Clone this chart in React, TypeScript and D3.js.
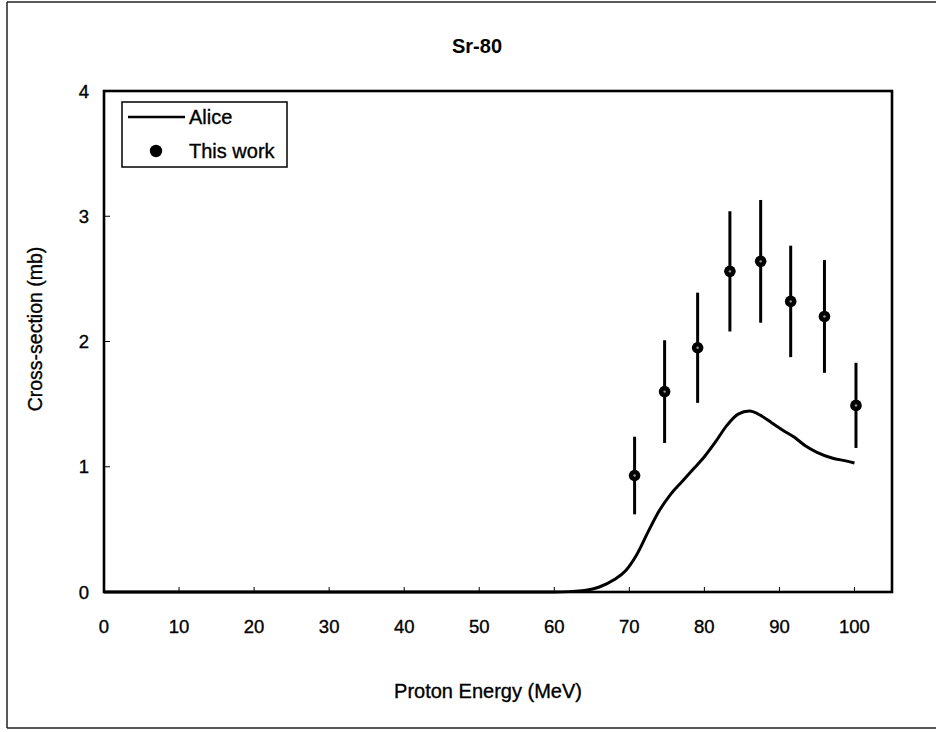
import React from "react";
import * as d3 from "d3";

// Alice model curve (Proton energy MeV, cross-section mb)
const aliceEnergy = [0, 10, 20, 30, 40, 50, 55, 60, 62, 64, 66, 68, 69.5, 71, 72.5, 74, 75.5, 77, 78.5, 80, 81.5, 83, 84.5, 86, 87.5, 89, 90.5, 92, 93.5, 95, 97, 99, 100];
const aliceXs = [0, 0, 0, 0, 0, 0, 0, 0, 0.003, 0.012, 0.04, 0.1, 0.17, 0.3, 0.48, 0.65, 0.78, 0.88, 0.98, 1.08, 1.2, 1.33, 1.42, 1.445, 1.41, 1.35, 1.29, 1.235, 1.165, 1.115, 1.07, 1.045, 1.03];

// This work measurements
const workEnergy = [70.7, 74.7, 79.1, 83.4, 87.5, 91.5, 96.0, 100.2];
const workXs = [0.93, 1.60, 1.95, 2.56, 2.64, 2.32, 2.20, 1.49];
const workErr = [0.31, 0.41, 0.44, 0.48, 0.49, 0.445, 0.45, 0.34];

const xTicks = [0, 10, 20, 30, 40, 50, 60, 70, 80, 90, 100];
const yTicks = [0, 1, 2, 3, 4];

const title = "Sr-80";
const xTitle = "Proton Energy (MeV)";
const yTitle = "Cross-section (mb)";
const legendLabels = ["Alice", "This work"];

export default function App() {
  const W = 936, H = 732;
  const left = 104, right = 892, top = 91, bottom = 592;
  const x = d3.scaleLinear().domain([0, 105]).range([left, right]);
  const y = d3.scaleLinear().domain([0, 4]).range([bottom, top]);
  const font = "'Liberation Sans', Arial, Helvetica, sans-serif";
  const txt = { stroke: "#000", strokeWidth: 0.35 } as const;

  const line = d3
    .line<number>()
    .x((_, i) => x(aliceEnergy[i]))
    .y((d) => y(d))
    .curve(d3.curveMonotoneX);

  return (
    <svg width={W} height={H} style={{ position: "absolute", left: 0, top: 0, background: "#fff" }} fontFamily={font}>
      {/* outer frame (no right border) */}
      <line x1={7} y1={2} x2={W} y2={2} stroke="#222" strokeWidth={1.5} />
      <line x1={7} y1={2} x2={7} y2={728} stroke="#222" strokeWidth={1.5} />
      <line x1={7} y1={728} x2={W} y2={728} stroke="#222" strokeWidth={1.5} />

      {/* title */}
      <text x={477} y={53} textAnchor="middle" fontSize={20} fontWeight="bold">{title}</text>

      {/* ticks */}
      {xTicks.map((t) => (
        <g key={"xt" + t}>
          <line x1={x(t)} x2={x(t)} y1={bottom} y2={bottom - 5} stroke="#000" strokeWidth={1} />
          <text x={x(t)} y={633} textAnchor="middle" fontSize={18.5} {...txt}>{t}</text>
        </g>
      ))}
      {yTicks.map((t) => (
        <g key={"yt" + t}>
          <line x1={left} x2={left + 6} y1={y(t)} y2={y(t)} stroke="#000" strokeWidth={1} />
          <text x={89} y={y(t)} dy="0.36em" textAnchor="end" fontSize={18.5} {...txt}>{t}</text>
        </g>
      ))}

      {/* axis titles */}
      <text x={488} y={698} textAnchor="middle" fontSize={20} {...txt}>{xTitle}</text>
      <text transform={`translate(42,329) rotate(-90)`} textAnchor="middle" fontSize={19.5} {...txt}>{yTitle}</text>

      {/* Alice curve */}
      <path d={line(aliceXs) || ""} fill="none" stroke="#000" strokeWidth={3} strokeLinejoin="round" />

      {/* error bars and points */}
      {workEnergy.map((e, i) => (
        <g key={"p" + i}>
          <line x1={x(e)} x2={x(e)} y1={y(workXs[i] - workErr[i])} y2={y(workXs[i] + workErr[i])} stroke="#000" strokeWidth={3} />
          <circle cx={x(e)} cy={y(workXs[i])} r={5.8} fill="#000" />
          <circle cx={x(e)} cy={y(workXs[i])} r={1.2} fill="#999" />
        </g>
      ))}

      {/* plot frame */}
      <rect x={left} y={top} width={right - left} height={bottom - top} fill="none" stroke="#000" strokeWidth={2.6} />

      {/* legend */}
      <rect x={122} y={102} width={165} height={65} fill="#fff" stroke="#000" strokeWidth={1.5} />
      <line x1={128} x2={185} y1={117} y2={117} stroke="#000" strokeWidth={2.5} />
      <text x={189} y={117} dy="0.36em" fontSize={20} {...txt}>{legendLabels[0]}</text>
      <circle cx={156} cy={151} r={6.2} fill="#000" />
      <text x={189} y={151} dy="0.36em" fontSize={20} {...txt}>{legendLabels[1]}</text>
    </svg>
  );
}
